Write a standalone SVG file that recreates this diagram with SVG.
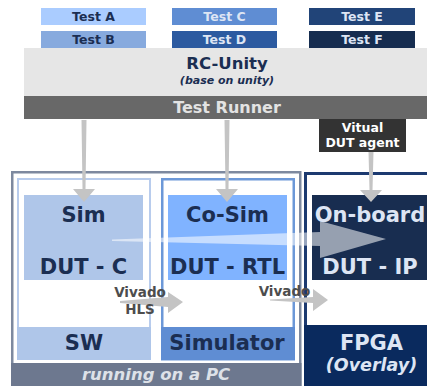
<svg xmlns="http://www.w3.org/2000/svg" width="427" height="386" viewBox="0 0 427 386">
  <style>
    text { font-family: "DejaVu Sans", Verdana, sans-serif; font-weight: bold; text-anchor: middle; }
    .navy { fill: #1b2e52; }
    .light { fill: #dde5f4; }
    .test { font-size: 12.5px; }
    .big { font-size: 21px; }
    .tool { font-size: 13.5px; fill: #4d4d4d; }
    .arrow { fill: #c4c4c4; }
  </style>

  <!-- test suites -->
  <g id="test-a"><rect x="41" y="8" width="105" height="17" fill="#aaccff"/><text class="test navy" x="93.5" y="21">Test A</text></g>
  <g id="test-b"><rect x="41" y="31" width="105" height="17" fill="#87aade"/><text class="test navy" x="93.5" y="44">Test B</text></g>
  <g id="test-c"><rect x="172" y="8" width="105" height="17" fill="#5f8dd3"/><text class="test light" x="224.5" y="21">Test C</text></g>
  <g id="test-d"><rect x="172" y="31" width="105" height="17" fill="#2c5aa0"/><text class="test light" x="224.5" y="44">Test D</text></g>
  <g id="test-e"><rect x="309" y="8" width="106" height="17" fill="#214478"/><text class="test light" x="362" y="21">Test E</text></g>
  <g id="test-f"><rect x="309" y="31" width="106" height="17" fill="#162d50"/><text class="test light" x="362" y="44">Test F</text></g>

  <!-- framework -->
  <g id="rc-unity">
    <rect x="24" y="48" width="403" height="48" fill="#e6e6e6"/>
    <text class="navy" x="227" y="69" font-size="16.5">RC-Unity</text>
    <text class="navy" x="227" y="84" font-size="11" font-style="italic">(base on unity)</text>
  </g>
  <g id="test-runner">
    <rect x="24" y="96" width="403" height="23" fill="#686868"/>
    <text x="227" y="113" font-size="16" fill="#e3e3e3">Test Runner</text>
  </g>
  <g id="dut-agent">
    <rect x="319" y="119" width="87" height="33" fill="#333333"/>
    <text x="362.5" y="132" font-size="12.5" fill="#ffffff">Vitual</text>
    <text x="362.5" y="147" font-size="12.5" fill="#ffffff">DUT agent</text>
  </g>

  <!-- PC platform -->
  <g id="pc">
    <rect x="12.25" y="172.25" width="288" height="220" fill="#ffffff" stroke="#7d899f" stroke-width="2.5"/>
    <rect x="11" y="363" width="290.5" height="23" fill="#6d788f"/>
    <text x="156" y="380" font-size="16.5" font-style="italic" fill="#dde1e8">running on a PC</text>
  </g>
  <g id="sw">
    <rect x="18" y="179" width="132" height="180" fill="#ffffff" stroke="#b8cced" stroke-width="2"/>
    <rect x="17" y="327" width="134" height="33" fill="#afc6e9"/>
    <text class="big navy" x="84" y="350">SW</text>
  </g>
  <g id="sim">
    <rect x="24" y="195" width="119" height="85" fill="#afc6e9"/>
    <text class="big navy" x="83.5" y="222">Sim</text>
    <text class="big navy" x="83.5" y="274">DUT - C</text>
  </g>
  <g id="simulator">
    <rect x="162.25" y="179.25" width="131.5" height="180" fill="#ffffff" stroke="#6c98d8" stroke-width="2.5"/>
    <rect x="161" y="327" width="134" height="33" fill="#5f8dd3"/>
    <text class="big navy" x="227" y="350">Simulator</text>
  </g>
  <g id="co-sim">
    <rect x="168" y="195" width="119" height="85" fill="#80b3ff"/>
    <text class="big navy" x="227.5" y="222">Co-Sim</text>
    <text class="big navy" x="227.5" y="274">DUT - RTL</text>
  </g>

  <!-- FPGA platform -->
  <g id="fpga">
    <rect x="305.5" y="173.5" width="130" height="220" fill="#ffffff" stroke="#1c3a70" stroke-width="3"/>
    <rect x="304" y="325" width="123" height="61" fill="#0a2a5e"/>
    <text class="light" x="371.5" y="350" font-size="21">FPGA</text>
    <text class="light" x="371.5" y="371" font-size="17.5" font-style="italic">(Overlay)</text>
  </g>
  <g id="on-board">
    <rect x="312" y="195" width="120" height="85" fill="#182d50"/>
  </g>

  <!-- connectors -->
  <g id="connectors">
    <polygon class="arrow" points="81.5,120 86.5,120 85.5,189 95,189 84,202 73,189 82.5,189"/>
    <polygon class="arrow" points="224.5,120 229.5,120 228.5,189 238,189 227,202 216,189 225.5,189"/>
    <polygon class="arrow" points="368.5,152 373.5,152 372.5,190 382,190 371,202 360,190 369.5,190"/>
    <polygon class="arrow" points="120,301 168,297 168,292 183,302 168,313 168,307 120,303"/>
    <polygon class="arrow" points="270,299.5 313,297 313,289 328,300 313,311 313,303 270,300.5"/>
    <polygon fill="#ffffff" fill-opacity="0.55" points="112,239.5 320,232 320,221 386,239 320,258 320,246 112,241"/>
  </g>

  <!-- labels drawn above the connectors -->
  <g id="on-board-labels">
    <text class="light" x="370" y="222" font-size="21" fill="#c6daf7">On-board</text>
    <text class="light" x="370" y="274" font-size="21">DUT - IP</text>
  </g>
  <g id="tool-labels">
    <text class="tool" x="140" y="297">Vivado</text>
    <text class="tool" x="140" y="314">HLS</text>
    <text class="tool" x="284.5" y="296">Vivado</text>
  </g>
</svg>
